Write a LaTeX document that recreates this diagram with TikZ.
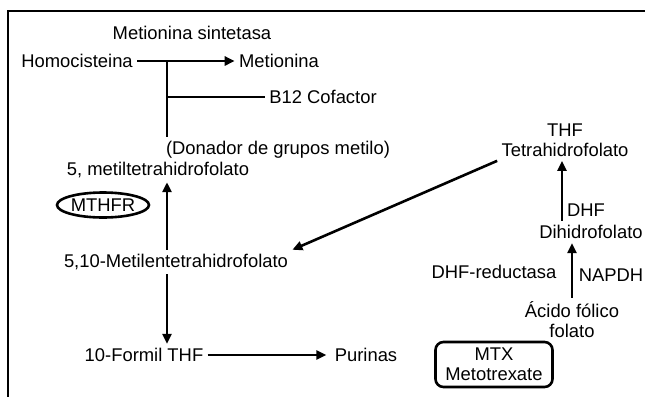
\documentclass[tikz,border=0pt]{standalone}
\usepackage{fontspec}
\setmainfont{Liberation Sans}
\usetikzlibrary{shapes,arrows.meta}
\tikzstyle{lbl}=[inner sep=2pt,font=\fontsize{9.2}{10}\selectfont]
\tikzstyle{flow}=[line width=1.3pt,-{Triangle[length=5pt,width=4.5pt]}]
\tikzstyle{bar}=[line width=1.3pt]

\begin{document}
\begin{tikzpicture}[x=0.5pt,y=-0.5pt]
    \useasboundingbox (0,0) rectangle (645,397);
    \draw[line width=1pt] (8,397) -- (8,11) -- (645,11);
    % methionine cycle
    \node[lbl] (sint) at (192,33)  {Metionina sintetasa};
    \node[lbl] (homo) at (77,61)   {Homocisteina};
    \node[lbl] (met)  at (279,61)  {Metionina};
    \node[lbl] (b12)  at (323,97)  {B12 Cofactor};
    \node[lbl] (don)  at (278,150) {(Donador de grupos metilo)};
    \node[lbl] (mthf) at (158,170) {5, metiltetrahidrofolato};
    \node[lbl,ellipse,draw,line width=1.3pt,inner sep=0pt,minimum width=92*0.5pt,minimum height=25*0.5pt] (mthfr) at (103,205) {MTHFR};
    \node[lbl] (mtf)  at (176,262) {5,10-Metilentetrahidrofolato};
    \node[lbl] (form) at (144,355) {10-Formil THF};
    \node[lbl] (pur)  at (366,355) {Purinas};
    \coordinate (j1) at (167,61);
    \coordinate (j2) at (167,97);
    \draw[flow] (homo.east) -- (met.west);
    \draw[bar] (j1) -- (j1 |- don.north);
    \draw[bar] (j2) -- (b12.west);
    \draw[flow] (mtf.north -| j1) -- (mthf.south -| j1);
    \draw[flow] (mtf.south -| j1) -- (form.north -| j1);
    \draw[flow] (form.east) -- ([xshift=-2pt]pur.west);
    % folate side
    \node[lbl,align=center] (thf) at (565,140) {THF\\Tetrahidrofolato};
    \node[lbl] (dhf)  at (586,210) {DHF};
    \node[lbl] (dhi)  at (591,232) {Dihidrofolato};
    \node[lbl] (red)  at (494,272) {DHF-reductasa};
    \node[lbl] (nad)  at (611,275) {NAPDH};
    \node[lbl,align=center] (acid) at (572,320) {Ácido fólico\\folato};
    \node[lbl,align=center,draw,rounded corners=4pt,line width=1.3pt,minimum width=117*0.5pt,minimum height=45*0.5pt] (mtx) at (494,364.5) {MTX\\Metotrexate};
    \draw[flow] (thf.south west) -- (mtf.north east);
    \draw[flow] (dhi.north -| 562,0) -- (thf.south -| 562,0);
    \draw[flow] (acid.north) -- (dhi.south -| acid.north);
\end{tikzpicture}
\end{document}
